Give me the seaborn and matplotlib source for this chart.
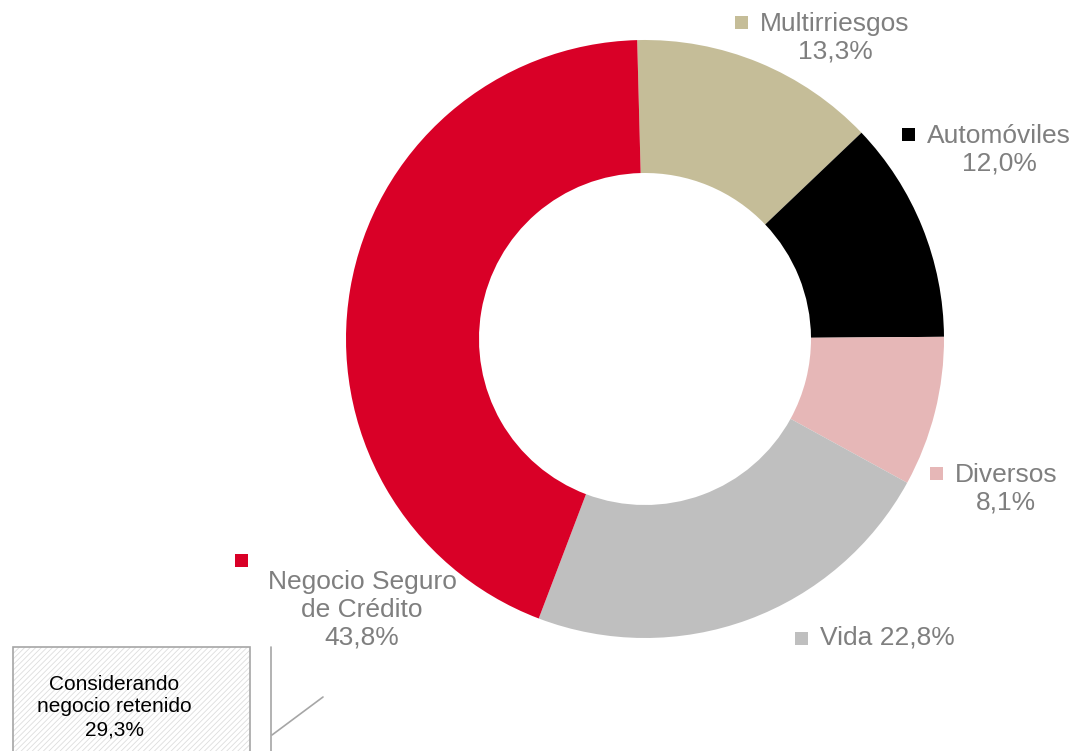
import matplotlib
matplotlib.use("Agg")
import matplotlib.pyplot as plt
from matplotlib.patches import Rectangle
import seaborn as sns

categories = ["Multirriesgos", "Automóviles", "Diversos", "Vida", "Negocio Seguro de Crédito"]
values = [13.3, 12.0, 8.1, 22.8, 43.8]
colors = ["#C5BD98", "#000000", "#E6B7B7", "#BFBFBF", "#D90027"]
label_texts = ["Multirriesgos\n13,3%", "Automóviles\n12,0%", "Diversos\n8,1%", "Vida 22,8%",
               "Negocio Seguro\nde Crédito\n43,8%"]
box_text = "Considerando\nnegocio retenido\n29,3%"

sns.set_theme(style="white")
plt.rcParams['font.family'] = ['Liberation Sans', 'DejaVu Sans']
plt.rcParams['hatch.linewidth'] = 0.6

W, H = 1076, 751
fig = plt.figure(figsize=(W / 100, H / 100), dpi=100)
ax = fig.add_axes([0, 0, 1, 1])

def Y(y):
    return H - y

ax.pie(values, colors=colors, startangle=91.5, counterclock=False,
       center=(645, Y(339)), radius=299,
       wedgeprops=dict(width=299 - 166, linewidth=0))
ax.set_xlim(0, W)
ax.set_ylim(0, H)
ax.set_aspect('auto')
ax.axis('off')

grey = "#7F7F7F"
fs = 19
# label positions (pixel coords): marker (x, y), text anchor
specs = [
    ((741, 22), (835, 38), 'center'),
    ((908, 134), (999, 150), 'center'),
    ((936, 473), (1006, 489), 'center'),
    ((801, 638), (820, 638), 'left'),
    ((241, 560), (362, 610), 'center'),
]
ms = 13
for i, ((mx, my), (tx, ty), ha) in enumerate(specs):
    ax.add_patch(Rectangle((mx - ms / 2, Y(my) - ms / 2), ms, ms, color=colors[i], lw=0))
    ax.text(tx, Y(ty), label_texts[i], ha=ha, va='center', color=grey, fontsize=fs,
            linespacing=1.2)

# retained-business box
ax.add_patch(Rectangle((13, Y(760)), 237, 760 - 647, facecolor='white',
                       edgecolor='#DDDDDD', hatch='//////', lw=0))
ax.add_patch(Rectangle((13, Y(760)), 237, 760 - 647, facecolor='none',
                       edgecolor='#A6A6A6', lw=1.2))
ax.text(114, Y(707), box_text, ha='center', va='center', color='black', fontsize=15,
        linespacing=1.25)

# connector lines
ax.plot([271, 271], [Y(647), Y(760)], color='#A6A6A6', lw=1.2)
ax.plot([272, 323], [Y(735), Y(697)], color='#A6A6A6', lw=1.2)

fig.savefig("out.png", dpi=100)
